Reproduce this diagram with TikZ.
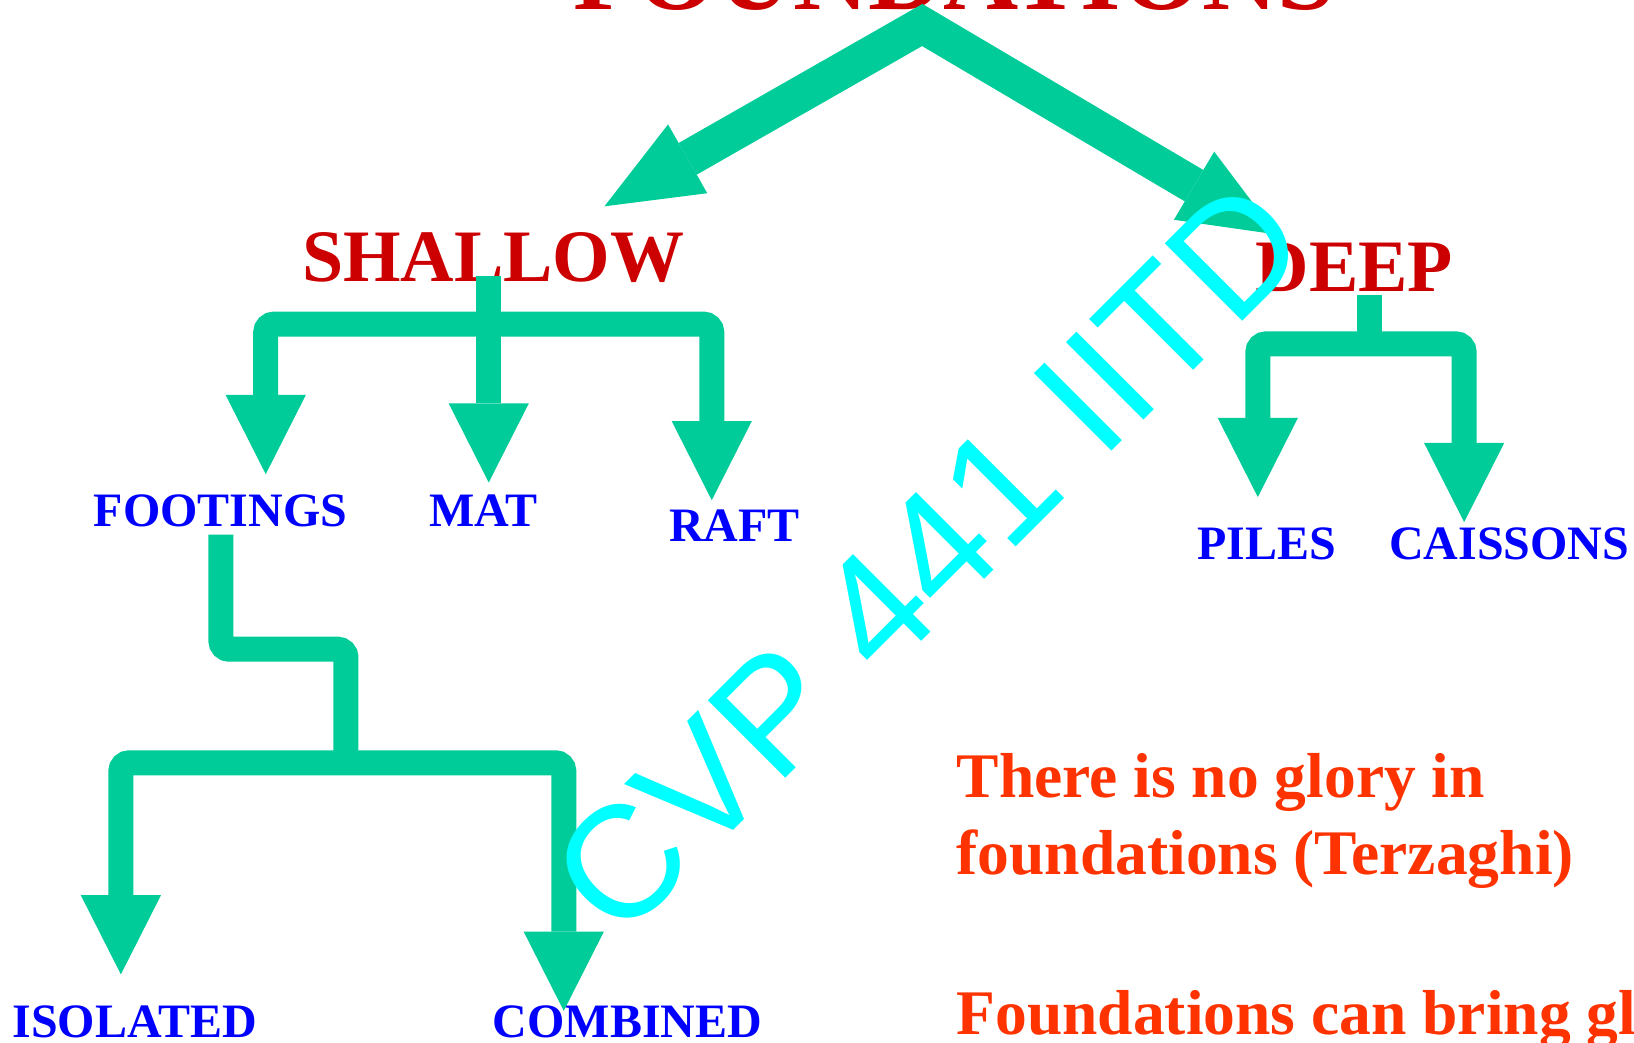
\documentclass[tikz,border=0pt]{standalone}
\usepackage{fontspec}
\setmainfont{Liberation Serif}
\newfontfamily\wmfont{Liberation Sans}
\usetikzlibrary{arrows.meta}
\definecolor{teal}{RGB}{0,204,153}
\definecolor{dred}{RGB}{204,0,0}
\definecolor{lblue}{RGB}{0,0,255}
\definecolor{qred}{RGB}{255,51,0}
\definecolor{wcyan}{RGB}{0,255,255}
\begin{document}
\begin{tikzpicture}[x=0.02cm,y=-0.02cm,
  txt/.style={anchor=base west,inner sep=0pt,outer sep=0pt,font=\bfseries},
  headA/.style={font=\fontsize{40.4}{48}\selectfont\bfseries,text=dred},
  lab/.style={font=\fontsize{26.2}{31}\selectfont\bfseries,text=lblue},
  quote/.style={font=\fontsize{34.7}{42}\selectfont\bfseries,text=qred},
  conn/.style={draw=teal,line width=0.48cm,line cap=butt,rounded corners=0.16cm},
  connA/.style={conn,-{Triangle[width=1.54cm,length=1.52cm,line width=0pt]}},
  connAA/.style={conn,{Triangle[width=1.54cm,length=1.52cm,line width=0pt]}-{Triangle[width=1.54cm,length=1.52cm,line width=0pt]}},
  bigA/.style={draw=teal,line width=0.7cm,line join=miter,
     {Triangle[width=1.52cm,length=1.84cm,line width=0pt]}-{Triangle[width=1.52cm,length=1.84cm,line width=0pt]}}]
\useasboundingbox (0,0) rectangle (1568,1000);
\clip (0,0) rectangle (1568,1000);
% title
\node[txt,font=\fontsize{56.9}{68}\selectfont\bfseries,text=dred] (title) at (550,9) {FOUNDATIONS};
% headings
\node[txt,headA] (shallow) at (290,270) {SHALLOW};
\node[txt,headA] (deep) at (1205,280) {DEEP};
% labels
\node[txt,lab] (footings) at (90,505) {FOOTINGS};
\node[txt,lab] (mat) at (412,505) {MAT};
\node[txt,lab] (raft) at (642,520) {RAFT};
\node[txt,lab] (piles) at (1149,537) {PILES};
\node[txt,lab] (caissons) at (1333,537) {CAISSONS};
\node[txt,lab] (isolated) at (12,996) {ISOLATED};
\node[txt,lab] (combined) at (473,996) {COMBINED};
% quotes
\node[txt,quote] (q1) at (918,765) {There is no glory in};
\node[txt,quote] (q2) at (918,839) {foundations (Terzaghi)};
\node[txt,quote] (q3) at (918,993) {Foundations can bring gl};
% coordinates
\coordinate (apex) at (885,24);
\coordinate (tipS) at (580,198);
\coordinate (tipD) at (1225,225);
\coordinate (sTop) at (469,265);
\coordinate (sJ) at (469,311);
\coordinate (tFoot) at (255,455);
\coordinate (tMat) at (469,463);
\coordinate (tRaft) at (683,480);
\coordinate (dTop) at (1314,283);
\coordinate (dJ) at (1314,330);
\coordinate (tPiles) at (1207,477);
\coordinate (tCais) at (1405,501);
\coordinate (fTop) at (212,513);
\coordinate (fStep) at (272,623);
\coordinate (fJ) at (332,732);
\coordinate (tIso) at (116,935);
\coordinate (tComb) at (541,970);
% big arrows
\draw[bigA] (tipS) -- (apex) -- (tipD);
% shallow tree
\draw[connAA] (tFoot) |- (sJ) -| (tRaft);
\draw[connA] (sTop) -- (tMat);
% deep tree
\draw[conn] (dTop) -- (dJ);
\draw[connAA] (tPiles) |- (dJ) -| (tCais);
% footings tree
\draw[conn] (fTop) |- (fStep) -| (fJ);
\draw[connAA] (tIso) |- (fJ) -| (tComb);
% watermark
\node[rotate=45,inner sep=0pt,text=wcyan,font=\wmfont\fontsize{87}{96}\selectfont] (wm) at (891,535) {CVP 441 IITD};
\end{tikzpicture}
\end{document}
